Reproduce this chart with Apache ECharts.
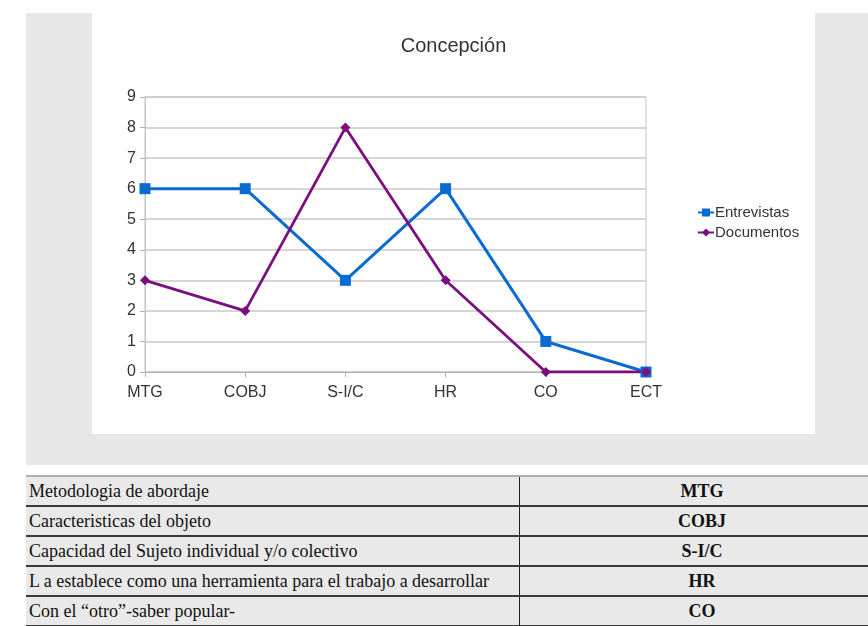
<!DOCTYPE html>
<html><head><meta charset="utf-8">
<script src="https://cdn.jsdelivr.net/npm/echarts@6/dist/echarts.min.js"></script>
<style>
html,body{margin:0;padding:0;background:#fff;width:868px;height:626px;overflow:hidden;}
#gray{position:absolute;left:26px;top:13px;width:842px;height:452px;background:#e7e7e7;}
#chart{position:absolute;left:92px;top:13px;width:723px;height:421px;background:#fff;}
#tbl{position:absolute;left:26px;top:475px;width:842px;border-collapse:collapse;font-family:"Liberation Serif","Times New Roman",serif;font-size:18px;color:#111;}
#tbl td{background:#e9e9e9;height:28px;padding:0 0 0 3px;border-bottom:2px solid #3a3a3a;white-space:nowrap;}
#tbl tr:first-child td{border-top:2px solid #b0b0b0;}
#tbl td.r{text-align:center;font-weight:bold;border-left:1px solid #222;padding:0 0 0 16px;}
</style></head>
<body>
<div id="gray"></div>
<div id="chart"></div>
<table id="tbl"></table>
<script>
const categories = ["MTG","COBJ","S-I/C","HR","CO","ECT"];
const entrevistas = [6,6,3,6,1,0];
const documentos = [3,2,8,3,0,0];
const tableDesc = ["Metodologia de abordaje","Caracteristicas del objeto","Capacidad del Sujeto individual y/o colectivo","L a establece como una herramienta para el trabajo a desarrollar","Con el \u201cotro\u201d-saber popular-"];
const tableCode = ["MTG","COBJ","S-I/C","HR","CO"];

const tbl = document.getElementById('tbl');
tableDesc.forEach((d,i)=>{
  const tr=document.createElement('tr');
  const a=document.createElement('td'); a.textContent=d; a.style.width='490px';
  const b=document.createElement('td'); b.className='r'; b.textContent=tableCode[i];
  tr.appendChild(a); tr.appendChild(b); tbl.appendChild(tr);
});

const chart = echarts.init(document.getElementById('chart'));
const font = '"Liberation Sans", Arial, sans-serif';
chart.setOption({
  animation:false,
  backgroundColor:'#fff',
  title:{text:'Concepción',left:'center',top:18,textStyle:{fontFamily:font,fontSize:20,fontWeight:'normal',color:'#333'}},
  legend:{orient:'vertical',left:600,top:187,itemGap:5,itemWidth:16,itemHeight:10,
    textStyle:{fontFamily:font,fontSize:15,color:'#333',padding:[0,0,0,-4]},
    data:['Entrevistas','Documentos']},
  grid:{left:53,right:169,top:84,bottom:62,show:true,borderColor:'#c4c4c4',borderWidth:1},
  xAxis:{type:'category',data:categories,boundaryGap:false,
    axisLine:{lineStyle:{color:'#b3b3b3'}},
    axisTick:{show:true,alignWithLabel:true,length:5,lineStyle:{color:'#b3b3b3'}},
    axisLabel:{fontFamily:font,fontSize:16,color:'#333',margin:13},
    splitLine:{show:false}},
  yAxis:{type:'value',min:0,max:9,interval:1,
    axisLine:{show:true,lineStyle:{color:'#c4c4c4'}},
    axisTick:{show:true,length:5,lineStyle:{color:'#b3b3b3'}},
    axisLabel:{fontFamily:font,fontSize:16,color:'#333',margin:9},
    splitLine:{lineStyle:{color:'#c8c8c8',width:1.5}}},
  series:[
    {name:'Entrevistas',type:'line',data:entrevistas,symbol:'rect',symbolSize:11,
      lineStyle:{color:'#0a6bd2',width:3},itemStyle:{color:'#0a6bd2'}},
    {name:'Documentos',type:'line',data:documentos,symbol:'diamond',symbolSize:10,
      lineStyle:{color:'#7a0f7d',width:2.8},itemStyle:{color:'#7a0f7d'}}
  ]
});
</script>
</body></html>
